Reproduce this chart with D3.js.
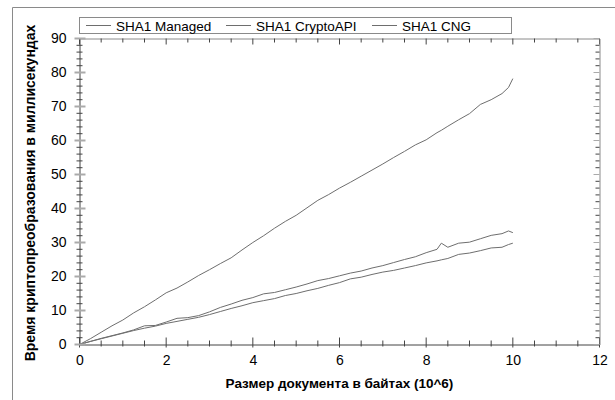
<!DOCTYPE html>
<html>
<head>
<meta charset="utf-8">
<script src="https://cdn.jsdelivr.net/npm/d3@7"></script>
<style>
  body { margin: 0; background: #fff; }
  svg { font-family: Arial, "Liberation Sans", sans-serif; }
</style>
</head>
<body>
<div id="chart-mount"></div>
<script>
var WIDTH = 615;
var HEIGHT = 400;

// document size, 10^6 bytes
var SIZES = [0, 0.25, 0.5, 0.75, 1, 1.25, 1.5, 1.75, 2, 2.25, 2.5, 2.75, 3, 3.25, 3.5, 3.75,
  4, 4.25, 4.5, 4.75, 5, 5.25, 5.5, 5.75, 6, 6.25, 6.5, 6.75, 7, 7.25, 7.5, 7.75,
  8, 8.25, 8.35, 8.5, 8.75, 9, 9.25, 9.5, 9.75, 9.9, 10];

// time, ms
var MANAGED = [0, 1.7, 3.6, 5.5, 7.2, 9.3, 11.1, 13.1, 15.2, 16.6, 18.4, 20.3, 22.0, 23.8, 25.5, 27.8,
  30.0, 32.0, 34.2, 36.2, 38.0, 40.2, 42.4, 44.1, 46.0, 47.7, 49.5, 51.3, 53.1, 55.0, 56.8, 58.7,
  60.2, 62.3, 63.0, 64.2, 66.1, 67.9, 70.6, 72.0, 73.8, 75.6, 78.2];
var CRYPTOAPI = [0, 0.9, 1.8, 2.6, 3.4, 4.3, 5.5, 5.6, 6.6, 7.7, 7.9, 8.5, 9.6, 10.9, 11.9, 13.0,
  13.8, 14.9, 15.3, 16.1, 16.9, 17.8, 18.8, 19.4, 20.2, 21.0, 21.6, 22.5, 23.2, 24.1, 25.0, 25.8,
  27.0, 28.0, 29.8, 28.6, 29.8, 30.1, 31.1, 32.1, 32.6, 33.4, 32.9];
var CNG = [0, 0.9, 1.7, 2.5, 3.3, 4.1, 4.8, 5.4, 6.2, 6.8, 7.4, 8.0, 8.8, 9.7, 10.6, 11.4,
  12.3, 12.9, 13.5, 14.4, 15.0, 15.8, 16.5, 17.4, 18.2, 19.3, 19.8, 20.6, 21.3, 21.8, 22.5, 23.2,
  24.0, 24.6, 24.9, 25.3, 26.5, 26.9, 27.6, 28.4, 28.6, 29.4, 29.8];

var SERIES_NAMES = ['SHA1 Managed', 'SHA1 CryptoAPI', 'SHA1 CNG'];
var SERIES_VALUES = [MANAGED, CRYPTOAPI, CNG];

var X_TICKS = [0, 2, 4, 6, 8, 10, 12];
var Y_TICKS = [0, 10, 20, 30, 40, 50, 60, 70, 80, 90];

var X_TITLE = 'Размер документа в байтах (10^6)';
var Y_TITLE = 'Время криптопреобразования в миллисекундах';

var LINE_COLOR = '#6e6e6e';
var AXIS_COLOR = '#444';
var FRAME_COLOR = '#8a8a8a';

var plot = { left: 79.5, right: 599.5, top: 38.5, bottom: 344.5 };

var $svg = d3.select('#chart-mount').append('svg')
  .attr('width', WIDTH)
  .attr('height', HEIGHT);

var x = d3.scaleLinear().domain([0, 12]).range([plot.left, plot.right]);
var y = d3.scaleLinear().domain([0, 90]).range([plot.bottom, plot.top]);

function drawFrame () {
  // outer page frame, only top and left edges show
  $svg.append('path')
    .attr('d', 'M12.5,' + HEIGHT + 'V7.5H' + WIDTH)
    .attr('fill', 'none')
    .attr('stroke', FRAME_COLOR);
}

function drawAxes () {
  var xMinor = d3.range(0, 12.01, 0.5);
  var yMinor = d3.range(0, 90.01, 2);

  // bottom axis
  var bottom = $svg.append('g')
    .attr('transform', 'translate(0,' + plot.bottom + ')')
    .call(d3.axisBottom(x).tickValues(X_TICKS).tickSize(0).tickPadding(11));
  bottom.select('.domain').attr('stroke', AXIS_COLOR);
  bottom.selectAll('text')
    .attr('font-size', 14)
    .attr('fill', '#000');
  bottom.selectAll('.minor')
    .data(xMinor)
    .enter()
      .append('line')
      .attr('class', 'minor')
      .attr('x1', function (d) { return x(d); })
      .attr('x2', function (d) { return x(d); })
      .attr('y1', function (d) { return d % 2 === 0 ? -7 : -4; })
      .attr('y2', function (d) { return d % 2 === 0 ? 3 : 2; })
      .attr('stroke', AXIS_COLOR);

  // top axis
  var top = $svg.append('g')
    .attr('transform', 'translate(0,' + plot.top + ')')
    .call(d3.axisTop(x).tickValues([]).tickSizeOuter(0));
  top.select('.domain').attr('stroke', FRAME_COLOR);
  top.selectAll('.minor')
    .data(xMinor)
    .enter()
      .append('line')
      .attr('class', 'minor')
      .attr('x1', function (d) { return x(d); })
      .attr('x2', function (d) { return x(d); })
      .attr('y1', 0)
      .attr('y2', function (d) { return d % 2 === 0 ? 6 : 4; })
      .attr('stroke', AXIS_COLOR);

  // left axis
  var left = $svg.append('g')
    .attr('transform', 'translate(' + plot.left + ',0)')
    .call(d3.axisLeft(y).tickValues(Y_TICKS).tickSize(0).tickPadding(13));
  left.select('.domain').attr('stroke', AXIS_COLOR);
  left.selectAll('text')
    .attr('font-size', 14)
    .attr('fill', '#000');
  left.selectAll('.minor')
    .data(yMinor)
    .enter()
      .append('line')
      .attr('class', 'minor')
      .attr('y1', function (d) { return y(d); })
      .attr('y2', function (d) { return y(d); })
      .attr('x1', function (d) { return d % 10 === 0 ? -5 : -3; })
      .attr('x2', function (d) { return d % 10 === 0 ? 6 : 3; })
      .attr('stroke', function (d) { return d % 10 === 0 ? '#aaa' : AXIS_COLOR; })
      .attr('stroke-width', function (d) { return d % 10 === 0 ? 2 : 1; });

  // right axis
  var right = $svg.append('g')
    .attr('transform', 'translate(' + plot.right + ',0)')
    .call(d3.axisRight(y).tickValues([]).tickSizeOuter(0));
  right.select('.domain').attr('stroke', FRAME_COLOR);
  right.selectAll('.minor')
    .data(yMinor)
    .enter()
      .append('line')
      .attr('class', 'minor')
      .attr('y1', function (d) { return y(d); })
      .attr('y2', function (d) { return y(d); })
      .attr('x1', function (d) { return d % 10 === 0 ? -6 : -4; })
      .attr('x2', 0)
      .attr('stroke', function (d) { return d % 10 === 0 ? '#aaa' : AXIS_COLOR; });

  $svg.append('text')
    .attr('x', x(6))
    .attr('y', 388)
    .attr('text-anchor', 'middle')
    .attr('font-size', 13.5)
    .attr('font-weight', 'bold')
    .text(X_TITLE);

  $svg.append('text')
    .attr('transform', 'translate(35,' + 193 + ') rotate(-90)')
    .attr('text-anchor', 'middle')
    .attr('font-size', 14)
    .attr('font-weight', 'bold')
    .text(Y_TITLE);
}

function drawLines () {
  var line = d3.line()
    .x(function (d, i) { return x(SIZES[i]); })
    .y(function (d) { return y(d); });

  $svg.append('g')
    .selectAll('path')
    .data(SERIES_VALUES)
    .enter()
      .append('path')
      .attr('d', line)
      .attr('fill', 'none')
      .attr('stroke', LINE_COLOR)
      .attr('stroke-width', 1);
}

function drawLegend () {
  var offsets = [86, 226, 372];
  var $legend = $svg.append('g');

  $legend.append('rect')
    .attr('x', 79.5)
    .attr('y', 17.5)
    .attr('width', 432)
    .attr('height', 16)
    .attr('fill', '#fff')
    .attr('stroke', FRAME_COLOR);

  var items = $legend.selectAll('.item')
    .data(SERIES_NAMES)
    .enter()
      .append('g')
      .attr('class', 'item')
      .attr('transform', function (d, i) { return 'translate(' + offsets[i] + ',25.5)'; });

  items.append('line')
    .attr('x1', 0)
    .attr('x2', 25)
    .attr('stroke', LINE_COLOR);

  items.append('text')
    .attr('x', 30)
    .attr('y', 5)
    .attr('font-size', 13.5)
    .text(function (d) { return d; });
}

drawFrame();
drawLines();
drawAxes();
drawLegend();
</script>
</body>
</html>
